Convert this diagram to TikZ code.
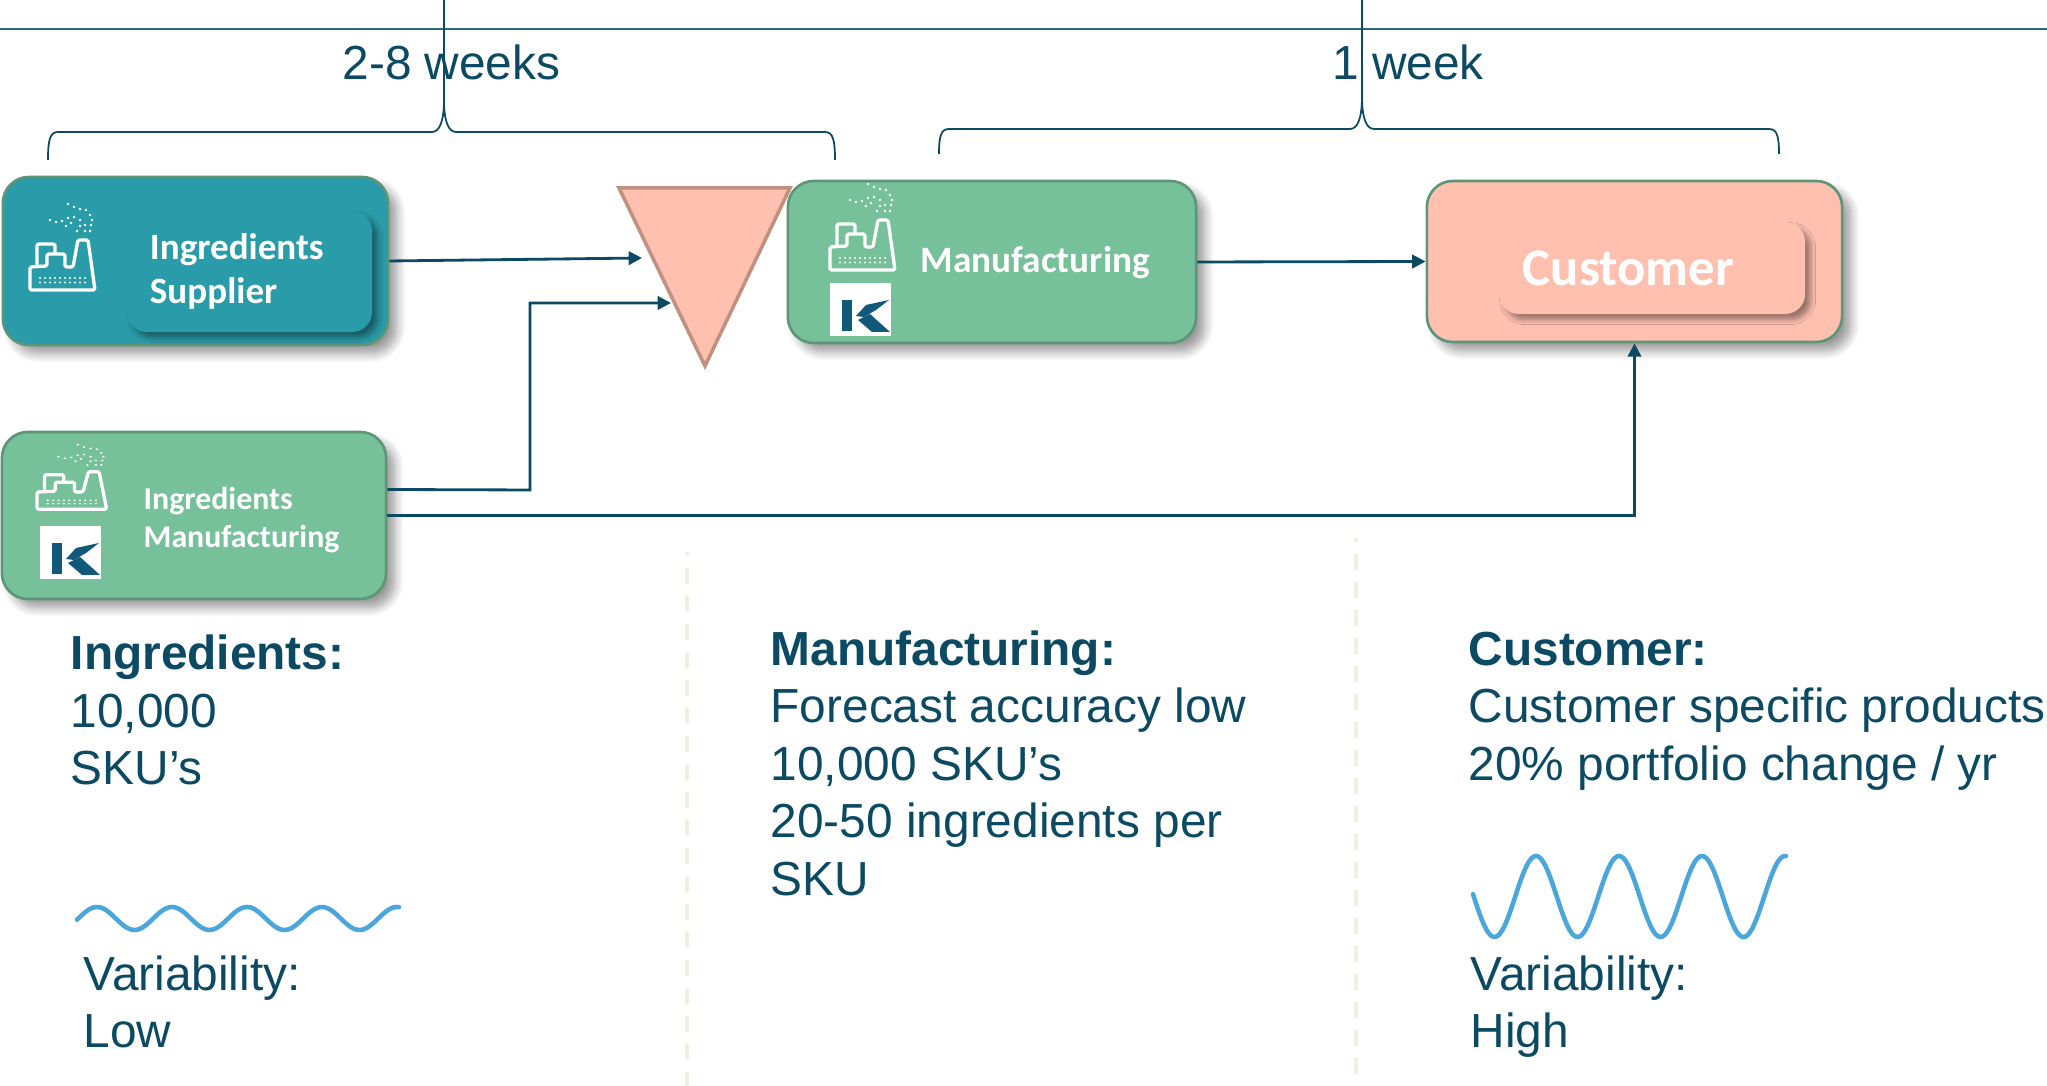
\documentclass[tikz,border=0pt]{standalone}
\usepackage{fontspec}
\setmainfont{Liberation Sans}
\newfontfamily\boxfont{Carlito}
\usetikzlibrary{arrows.meta,calc,positioning,shadows.blur}
\definecolor{inkblue}{HTML}{0B4A62}
\definecolor{logoblue}{HTML}{11597A}
\definecolor{tealbox}{HTML}{2A9BA8}
\definecolor{greenbox}{HTML}{76C09A}
\definecolor{salmonbox}{HTML}{FFC0B0}
\definecolor{edgegreen}{HTML}{5E9478}
\definecolor{edgesalmon}{HTML}{C09080}
\definecolor{wavecol}{HTML}{4BA6DC}
\definecolor{dashcol}{HTML}{EFF0E2}
\begin{document}
\begin{tikzpicture}[x=0.01cm,y=-0.01cm,
  flowbox/.style={draw=edgegreen,line width=0.75pt,rounded corners=0.26cm,inner sep=0pt,
    blur shadow={shadow xshift=2.5pt,shadow yshift=-2.5pt,shadow blur steps=10,shadow blur radius=2.5pt,shadow opacity=40}},
  innerbox/.style={rounded corners=0.2cm,align=left,inner sep=0pt,
    blur shadow={shadow xshift=1.6pt,shadow yshift=-1.6pt,shadow blur steps=10,shadow blur radius=1.4pt,shadow opacity=40}},
  boxlabel/.style={font=\boxfont\bfseries,text=white,align=left,inner sep=0pt},
  bodytext/.style={text=inkblue,align=left,inner sep=0pt,anchor=north west,font=\fontsize{13.6}{16.35}\selectfont},
  flowline/.style={draw=inkblue,line width=0.8pt,-{Triangle[length=3.8pt,width=3.8pt]}},
  bracket/.style={draw=inkblue,line width=0.5pt},
  wavy/.style={draw=wavecol,line width=1.3pt,line cap=round},
  divider/.style={draw=dashcol,line width=1.14pt,dash pattern=on 4.55pt off 3.41pt,dash phase=3.41pt},
  factory/.pic={
    \draw[white,line width=0.95pt,line join=round,rounded corners=0.015cm]
      (1,87) -- (66,87) -- (59,37) -- (49,37) -- (44,64) -- (36,64) -- (36,51) -- (18,51)
      -- (18,63) -- (1,64) -- cycle;
    \draw[white,line width=0.95pt,line join=round,rounded corners=0.015cm]
      (8,63) -- (8,41) -- (26,41) -- (26,51);
    \foreach \dotx in {11,16,...,56} {
      \fill[white] (\dotx,75) circle (1.2);
      \fill[white] (\dotx,79.5) circle (1.2);
    }
    \foreach \smokex/\smokey in {39/1,45/4,51/6,57/7,61/12,63/17,62/22,61/28,56/28,48/28,51/23,
      37/23,42/20,51/17,45/14,39/15,33/18,27/19,21/17,56/22}
      \fill[white] (\smokex,\smokey) circle (1.3);
  },
  klogo/.pic={
    \fill[white] (0,0) rectangle (61,53);
    \fill[logoblue] (12,17) rectangle (22,48);
    \fill[logoblue] (26,33) -- (36,22) -- (59,17) -- (46,27) -- (34,34) -- cycle;
    \fill[logoblue] (28,37) -- (40,31) -- (60,49) -- (42,49) -- cycle;
  }]
\useasboundingbox (0,0) rectangle (2047,1086);

% dividers and top line
\draw[divider] (687,552) -- (687,1086);
\draw[divider] (1356,538) -- (1356,1086);
\draw[draw=inkblue!85!white,line width=0.7pt] (0,29) -- (2047,29);

% brackets
\draw[bracket] (48,160) .. controls (48,140) and (50,132) .. (58,132) -- (432,132)
  .. controls (440,132) and (444,120) .. (444,100) -- (444,0)
  (444,100) .. controls (444,120) and (448,132) .. (456,132) -- (825,132)
  .. controls (833,132) and (835,140) .. (835,160);
\draw[bracket] (939,154) .. controls (939,136) and (941,129) .. (949,129) -- (1350,129)
  .. controls (1358,129) and (1362,117) .. (1362,97) -- (1362,0)
  (1362,97) .. controls (1362,117) and (1366,129) .. (1374,129) -- (1769,129)
  .. controls (1777,129) and (1779,136) .. (1779,154);
\draw[bracket,line width=0.7pt] (58,132) -- (432,132) (456,132) -- (825,132) (949,129) -- (1350,129) (1374,129) -- (1769,129);
\node[text=inkblue,inner sep=0pt,font=\fontsize{13.6}{16.3}\selectfont] (leadA) at (451.5,62) {2-8 weeks};
\node[text=inkblue,inner sep=0pt,font=\fontsize{13.6}{16.3}\selectfont] (leadB) at (1408,62) {1 week};

% boxes
\node[flowbox,fill=tealbox,minimum width=3.85cm,minimum height=1.68cm] (supplier) at (195.5,261) {};
\node[innerbox,fill=tealbox,minimum width=2.45cm,minimum height=1.21cm,text width=1.99cm,
  text=white,font=\boxfont\bfseries\fontsize{10.55}{12.5}\selectfont] (supplierlabel) at (249.5,271.5) {Ingredients\\Supplier};
\node[flowbox,fill=greenbox,minimum width=3.84cm,minimum height=1.67cm] (ingmfg) at (194,515.5) {};
\node[boxlabel,anchor=west,font=\boxfont\bfseries\fontsize{9.05}{11}\selectfont] (ingmfglabel) at (143,520) {Ingredients\\Manufacturing};
\node[flowbox,fill=greenbox,minimum width=4.08cm,minimum height=1.62cm] (mfg) at (992,262) {};
\node[boxlabel,anchor=west,font=\boxfont\bfseries\fontsize{10.6}{12.5}\selectfont] (mfglabel) at (920,263) {Manufacturing};
\node[flowbox,fill=salmonbox,minimum width=4.15cm,minimum height=1.61cm] (customer) at (1634.5,261.5) {};
\node[innerbox,fill=salmonbox,minimum width=3.06cm,minimum height=0.92cm,text width=2.58cm,
  text=white,font=\boxfont\bfseries\fontsize{15}{18}\selectfont] (customerlabel) at (1652,268) {Customer};

% stock triangle
\draw[fill=salmonbox,draw=edgesalmon,line width=1pt,line join=miter]
  (619,188) coordinate(stockL) -- (790,188) coordinate(stockR) -- (705,366) coordinate(stockT) -- cycle;
\coordinate (stockA) at (642,258);
\coordinate (stockB) at (671,303);

% icons
\pic at (29,203) {factory};
\pic at (36,444) [xscale=1.07,yscale=0.75] {factory};
\pic at (829,183) {factory};
\pic at (40,526) {klogo};
\pic at (830,283) {klogo};

% connectors
\draw[flowline] (supplier.east) -- (stockA);
\draw[flowline] ($(ingmfg.east)+(0,-26)$) -- (530,490) |- (stockB);
\draw[flowline] (ingmfg.east) -| (customer.south);
\draw[flowline] (mfg.east) -- (customer.west);

% texts
\node[bodytext] (ingtext) at (70,634.5) {\textbf{Ingredients:}\\10,000\\SKU’s};
\node[bodytext] (mfgtext) at (770,630) {\textbf{Manufacturing:}\\Forecast accuracy low\\10,000 SKU’s\\20-50 ingredients per\\SKU};
\node[bodytext] (custtext) at (1468,631) {\textbf{Customer:}\\Customer specific products\\20\% portfolio change / yr};
\node[bodytext] (lowtext) at (83,955) {Variability:\\Low};
\node[bodytext] (hightext) at (1470,955) {Variability:\\High};

% waves
\draw[wavy] plot[domain=77:399,samples=120] (\x,{918.5-11.5*cos(4.8*(\x-97))});
\draw[wavy] plot[domain=1473:1786,samples=140] (\x,{896.5-40.5*cos(4.337*(\x-1536))});
\end{tikzpicture}
\end{document}
